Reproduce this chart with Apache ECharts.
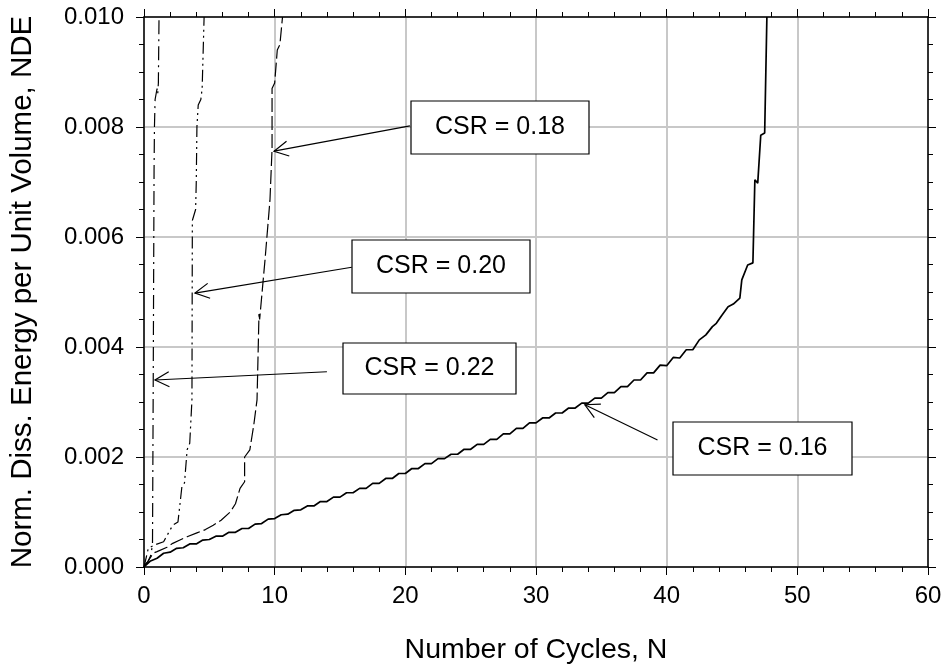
<!DOCTYPE html>
<html>
<head>
<meta charset="utf-8">
<script src="https://cdn.jsdelivr.net/npm/echarts@6/dist/echarts.min.js"></script>
<style>
html,body{margin:0;padding:0;background:#fff;}
#main{width:946px;height:671px;}
</style>
</head>
<body>
<div id="main"></div>
<script>
// ---- Data ----
const xTicks = [0, 10, 20, 30, 40, 50, 60];
const yTicks = [0.000, 0.002, 0.004, 0.006, 0.008, 0.010];

const csr16N = [0,0.5,1,1.5,2,2.5,3,3.5,4,4.5,5,5.5,6,6.5,7,7.5,8,8.5,9,9.5,10,10.5,11,11.5,12,12.5,13,13.5,14,14.5,15,15.5,16,16.5,17,17.5,18,18.5,19,19.5,20,20.5,21,21.5,22,22.5,23,23.5,24,24.5,25,25.5,26,26.5,27,27.5,28,28.5,29,29.5,30,30.5,31,31.5,32,32.5,33,33.5,34,34.5,35,35.5,36,36.5,37,37.5,38,38.5,39,39.5,40,40.5,41,41.5,42,42.5,43,43.5,43.8,44.2,44.7,45.1,45.6,45.75,46.2,46.6,46.75,46.97,47.2,47.5,47.67];
const csr16NDE = [0,0.00011,0.00016,0.00025,0.00027,0.00034,0.00035,0.00042,0.00042,0.00049,0.00050,0.00056,0.00056,0.00063,0.00063,0.00070,0.00070,0.00078,0.00079,0.00087,0.00088,0.00095,0.00096,0.00103,0.00104,0.00111,0.00111,0.00119,0.00119,0.00127,0.00127,0.00135,0.00135,0.00143,0.00143,0.00152,0.00152,0.00161,0.00161,0.00170,0.00170,0.00179,0.00179,0.00188,0.00188,0.00197,0.00197,0.00205,0.00205,0.00214,0.00214,0.00223,0.00223,0.00232,0.00232,0.00242,0.00242,0.00252,0.00252,0.00262,0.00262,0.00271,0.00271,0.00280,0.00280,0.00289,0.00289,0.00298,0.00298,0.00307,0.00307,0.00317,0.00317,0.00328,0.00328,0.00340,0.00340,0.00353,0.00353,0.00367,0.00366,0.00381,0.00380,0.00395,0.00395,0.00413,0.00422,0.00437,0.00443,0.00457,0.00473,0.00478,0.00489,0.00522,0.00549,0.00553,0.00704,0.00698,0.00785,0.00789,0.0100];

const csr18N = [0,0.3,0.7,1.0,1.76,2.2,2.75,3.3,4.05,4.7,5.3,5.9,6.6,7.0,7.35,7.7,7.7,8.1,8.4,8.65,8.75,8.8,8.85,9.26,9.64,9.8,9.8,10.0,10.2,10.4,10.6];
const csr18NDE = [0,0.0001,0.00025,0.00028,0.00036,0.00043,0.00049,0.00055,0.00062,0.00068,0.00076,0.00085,0.0010,0.00115,0.00143,0.00155,0.0020,0.00213,0.00258,0.00304,0.00407,0.0046,0.0045,0.00558,0.00667,0.0076,0.0087,0.0088,0.0094,0.0095,0.0100];

const csr20N = [0,0.33,0.8,1.5,2.2,2.6,2.9,3.1,3.3,3.5,3.67,3.7,3.95,4.0,4.05,4.15,4.35,4.45,4.6];
const csr20NDE = [0,0.00034,0.0004,0.00046,0.00076,0.00082,0.00146,0.00153,0.00213,0.00225,0.00304,0.0063,0.0065,0.0070,0.0080,0.0084,0.0085,0.0087,0.0100];

const csr22N = [0,0.1,0.3,0.5,0.65,0.7,0.77,0.8,0.85,1.0,1.05,1.1,1.15];
const csr22NDE = [0,0.00005,0.0001,0.0002,0.0004,0.0030,0.0072,0.0080,0.0085,0.0087,0.0086,0.0088,0.0100];

const labels = ['CSR = 0.16', 'CSR = 0.18', 'CSR = 0.20', 'CSR = 0.22'];

// ---- Annotation layout (pixels / data anchors) ----
const boxes = [
  {text: labels[0], x: 673, y: 422, w: 179, h: 53},
  {text: labels[1], x: 411, y: 101, w: 178, h: 53},
  {text: labels[2], x: 352, y: 240, w: 178, h: 53},
  {text: labels[3], x: 343, y: 343, w: 173, h: 51}
];
const arrows = [
  {tail: [39.3, 0.00231], tip: [33.74, 0.00295]},
  {tail: [20.35, 0.00802], tip: [9.95, 0.00756]},
  {tail: [15.9, 0.00545], tip: [3.9, 0.00498]},
  {tail: [14.0, 0.00355], tip: [0.84, 0.0034]}
];

const pairs = (xs, ys) => xs.map((x, i) => [x, ys[i]]);

const FONT = 'Liberation Sans, Arial, sans-serif';
const chart = echarts.init(document.getElementById('main'), null, {renderer: 'canvas'});

function axisCommon(isX, showLabels, pos) {
  return {
    type: 'value',
    position: pos,
    min: isX ? xTicks[0] : yTicks[0],
    max: isX ? xTicks[xTicks.length - 1] : yTicks[yTicks.length - 1],
    interval: isX ? 10 : 0.002,
    axisLine: {show: true, onZero: false, lineStyle: {color: '#000', width: 1.5}},
    axisTick: {show: true, inside: false, length: 8, lineStyle: {color: '#000', width: 1}},
    minorTick: {show: true, splitNumber: isX ? 5 : 4, length: 5, lineStyle: {color: '#000', width: 1}},
    splitLine: {show: showLabels, lineStyle: {color: '#c8c8c8', width: 2}},
    axisLabel: {
      show: showLabels,
      fontFamily: FONT, fontSize: 24, color: '#000',
      margin: isX ? 17 : 20,
      formatter: isX ? (v => String(v)) : (v => v.toFixed(3))
    }
  };
}

const xMain = Object.assign(axisCommon(true, true, 'bottom'), {
  name: 'Number of Cycles, N', nameLocation: 'middle', nameGap: 69,
  nameTextStyle: {fontFamily: FONT, fontSize: 28.5, color: '#000'}
});
const yMain = Object.assign(axisCommon(false, true, 'left'), {
  name: 'Norm. Diss. Energy per Unit Volume, NDE', nameLocation: 'middle', nameGap: 106,
  nameTextStyle: {fontFamily: FONT, fontSize: 29.5, color: '#000'}
});

function lineSeries(data, width, type) {
  return {
    type: 'line', data: data, showSymbol: false, symbol: 'none', smooth: false,
    xAxisIndex: 0, yAxisIndex: 0, clip: true, z: 3,
    lineStyle: {color: '#000', width: width, type: type}
  };
}

chart.setOption({
  animation: false,
  backgroundColor: '#fff',
  grid: {left: 144, right: 18, top: 17, bottom: 104, containLabel: false},
  xAxis: [xMain, axisCommon(true, false, 'top')],
  yAxis: [yMain, axisCommon(false, false, 'right')],
  series: [
    lineSeries(pairs(csr16N, csr16NDE), 1.7, 'solid'),
    lineSeries(pairs(csr18N, csr18NDE), 1.2, [14, 4]),
    lineSeries(pairs(csr20N, csr20NDE), 1.2, [12, 4, 2, 4, 2, 4]),
    lineSeries(pairs(csr22N, csr22NDE), 1.2, [14, 5, 2, 5])
  ]
});

// Annotations: arrows anchored in data space, boxes with labels
const graphics = [];
arrows.forEach(a => {
  const t = chart.convertToPixel({gridIndex: 0}, a.tail);
  const p = chart.convertToPixel({gridIndex: 0}, a.tip);
  const ang = Math.atan2(t[1] - p[1], t[0] - p[0]);
  const L = 16, spread = 28 * Math.PI / 180;
  const w1 = [p[0] + L * Math.cos(ang + spread), p[1] + L * Math.sin(ang + spread)];
  const w2 = [p[0] + L * Math.cos(ang - spread), p[1] + L * Math.sin(ang - spread)];
  graphics.push({type: 'line', z: 10, shape: {x1: t[0], y1: t[1], x2: p[0], y2: p[1]}, style: {stroke: '#000', lineWidth: 1.2}});
  graphics.push({type: 'polyline', z: 10, shape: {points: [w1, p, w2]}, style: {stroke: '#000', lineWidth: 1.2, fill: null}});
});
boxes.forEach(b => {
  graphics.push({type: 'rect', z: 10, shape: {x: b.x, y: b.y, width: b.w, height: b.h}, style: {fill: '#fff', stroke: '#000', lineWidth: 1.2}});
  graphics.push({type: 'text', z: 11, x: b.x + b.w / 2, y: b.y + b.h / 2,
    style: {text: b.text, fontFamily: FONT, fontSize: 25, fill: '#000', textAlign: 'center', textVerticalAlign: 'middle'}});
});
chart.setOption({graphic: graphics});
</script>
</body>
</html>
